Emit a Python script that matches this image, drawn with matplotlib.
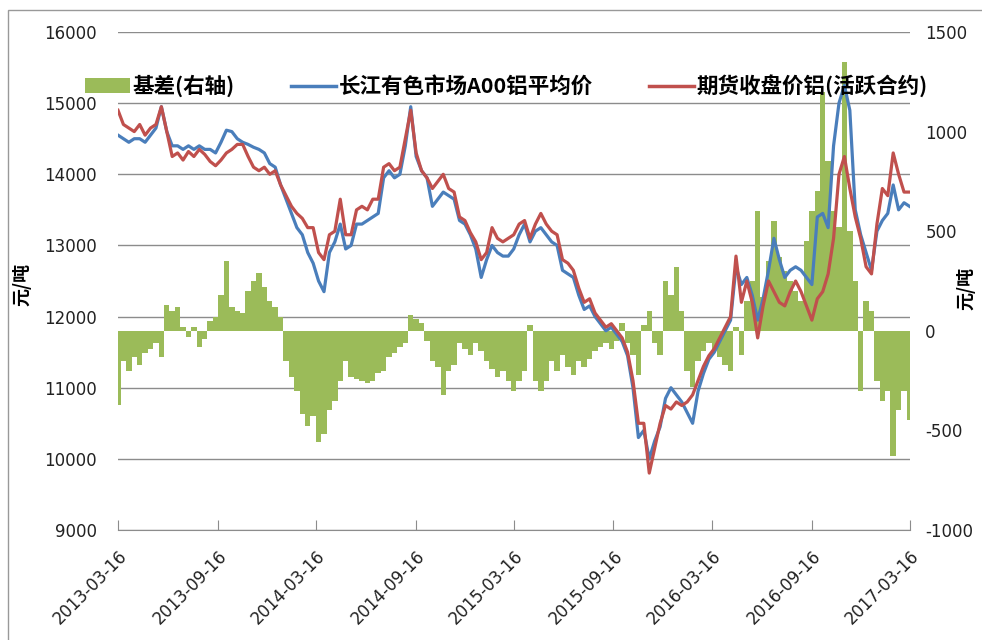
import matplotlib
matplotlib.use('Agg')
import matplotlib.pyplot as plt
from matplotlib.patches import Patch, Rectangle
from matplotlib.lines import Line2D
import pandas as pd

plt.rcParams['font.family'] = ['DejaVu Sans', 'Noto Sans CJK SC']
plt.rcParams['axes.unicode_minus'] = False

# ---------------- data (sampled every 10 days) ----------------
start_date = '2013-03-16'
step = '10D'

spot = [14550, 14500, 14450, 14500, 14500, 14450, 14550, 14650, 14950, 14600,
        14400, 14400, 14350, 14400, 14350, 14400, 14350, 14350, 14300, 14450,
        14620, 14600, 14500, 14450, 14420, 14380, 14350, 14300, 14150, 14100,
        13850, 13650, 13450, 13250, 13150, 12900, 12750, 12500, 12350, 12900,
        13050, 13300, 12950, 13000, 13300, 13300, 13350, 13400, 13450, 13950,
        14050, 13950, 14000, 14400, 14950, 14250, 14050, 13950, 13550, 13650,
        13750, 13700, 13650, 13350, 13300, 13150, 12950, 12550, 12800, 13000,
        12900, 12850, 12850, 12950, 13150, 13300, 13050, 13200, 13250, 13150,
        13050, 13000, 12650, 12600, 12550, 12300, 12100, 12150, 12000, 11900,
        11800, 11850, 11750, 11650, 11450, 11000, 10300, 10400, 10000, 10250,
        10450, 10850, 11000, 10900, 10800, 10650, 10500, 10950, 11200, 11400,
        11500, 11650, 11800, 11950, 12700, 12450, 12550, 12300, 11950, 12250,
        12650, 13100, 12800, 12550, 12650, 12700, 12650, 12550, 12450, 13400,
        13450, 13250, 14400, 15000, 15250, 14900, 13500, 13150, 12900, 12650,
        13200, 13350, 13450, 13850, 13500, 13600, 13550]

futures = [14900, 14700, 14650, 14600, 14700, 14550, 14650, 14700, 14950, 14600,
           14250, 14300, 14200, 14320, 14250, 14350, 14280, 14180, 14120, 14200,
           14300, 14350, 14420, 14420, 14250, 14100, 14050, 14100, 14000, 14050,
           13850, 13700, 13550, 13450, 13380, 13250, 13250, 12900, 12800, 13150,
           13200, 13650, 13150, 13150, 13500, 13550, 13500, 13650, 13650, 14100,
           14150, 14050, 14100, 14500, 14900, 14300, 14050, 13950, 13800, 13900,
           14000, 13800, 13750, 13400, 13350, 13180, 13050, 12800, 12900, 13250,
           13100, 13050, 13100, 13150, 13300, 13350, 13100, 13300, 13450, 13300,
           13200, 13150, 12800, 12750, 12650, 12400, 12200, 12250, 12050, 11950,
           11850, 11900, 11800, 11700, 11500, 11100, 10500, 10500, 9800, 10150,
           10500, 10750, 10700, 10800, 10750, 10800, 10900, 11100, 11300, 11450,
           11550, 11700, 11850, 12000, 12850, 12200, 12500, 12200, 11700, 12150,
           12500, 12350, 12200, 12150, 12350, 12500, 12350, 12150, 11950, 12250,
           12350, 12600, 13100, 14000, 14250, 13800, 13400, 13100, 12700, 12600,
           13300, 13800, 13700, 14300, 14000, 13750, 13750]

basis = [-370, -150, -200, -130, -170, -110, -90, -60, -130, 130,
         100, 120, 20, -30, 20, -80, -40, 50, 70, 180,
         350, 120, 100, 90, 200, 250, 290, 220, 150, 120,
         70, -150, -230, -300, -420, -480, -430, -560, -520, -400,
         -350, -250, -150, -230, -240, -250, -260, -250, -210, -200,
         -130, -110, -80, -60, 80, 60, 40, -50, -150, -180,
         -320, -200, -170, -60, -90, -120, -60, -100, -150, -190,
         -230, -200, -250, -300, -250, -200, 30, -250, -300, -250,
         -150, -200, -120, -180, -220, -150, -180, -140, -100, -80,
         -60, -90, -50, 40, -60, -120, -220, 30, 100, -60,
         -120, 250, 180, 320, 100, -200, -280, -150, -100, -60,
         -90, -130, -170, -200, 20, -120, 150, 250, 600, 170,
         350, 550, 370, 300, 250, 200, 150, 450, 600, 700,
         1200, 850, 600, 520, 1350, 500, 250, -300, 150, 100,
         -250, -350, -300, -630, -400, -300, -450]

tick_labels = ['2013-03-16', '2013-09-16', '2014-03-16', '2014-09-16',
               '2015-03-16', '2015-09-16', '2016-03-16', '2016-09-16',
               '2017-03-16']
legend_labels = ['基差(右轴)', '长江有色市场A00铝平均价', '期货收盘价铝(活跃合约)']
y_label = '元/吨'

dates = pd.date_range(start_date, periods=len(spot), freq=step)

# ---------------- styling ----------------
GREEN = '#9bbb59'
BLUE = '#4a7ebb'
RED = '#c0504d'
GRID = '#8c8c8c'
TXT = '#222222'

fig = plt.figure(figsize=(9.82, 6.4), dpi=100)
pos = [118 / 982, 1 - 530 / 640, (910 - 118) / 982, (530 - 32) / 640]

ax = fig.add_axes(pos)          # grid, left axis, x axis
ax2 = ax.twinx()                # basis bars (right axis)
ax3 = fig.add_axes(pos, sharex=ax, sharey=ax)  # price lines on top

ax.set_ylim(9000, 16000)
ax.set_yticks(range(9000, 16001, 1000))
ax.grid(axis='y', color=GRID, linewidth=1.0)
ax.set_axisbelow(True)
for s in ['top', 'left', 'right']:
    ax.spines[s].set_visible(False)
ax.spines['bottom'].set_color(GRID)
ax.tick_params(axis='y', length=0, pad=15, labelsize=12, colors=TXT)

ax.set_xlim(pd.Timestamp(tick_labels[0]), pd.Timestamp(tick_labels[-1]))
ax.set_xticks(pd.to_datetime(tick_labels))
ax.set_xticklabels(tick_labels, rotation=45, ha='right', va='top',
                   rotation_mode='anchor')
ax.tick_params(axis='x', direction='in', length=7, color=GRID, pad=12,
               labelsize=12, labelcolor=TXT)

ax2.bar(dates, basis, width=10, color=GREEN, linewidth=0)
ax2.set_ylim(-1000, 1500)
ax2.set_yticks(range(-1000, 1501, 500))
for s in ax2.spines.values():
    s.set_visible(False)
ax2.tick_params(axis='y', length=0, pad=11, labelsize=12, colors=TXT)

ax3.plot(dates, spot, color=BLUE, linewidth=2.3)
ax3.plot(dates, futures, color=RED, linewidth=2.3)
ax3.patch.set_visible(False)
ax3.axis('off')

# axis titles
fig.text(22 / 982, 1 - 285 / 640, y_label, rotation=90, ha='center', va='center',
         fontsize=13, fontweight='bold', family=['Noto Sans CJK SC', 'DejaVu Sans'])
fig.text(966 / 982, 1 - 288 / 640, y_label, rotation=90, ha='center', va='center',
         fontsize=13, fontweight='bold', family=['Noto Sans CJK SC', 'DejaVu Sans'])

# legend
handles = [Patch(facecolor=GREEN, edgecolor='none'),
           Line2D([], [], color=BLUE, linewidth=2.5),
           Line2D([], [], color=RED, linewidth=2.5)]
fig.legend(handles, legend_labels, loc='center left',
           bbox_to_anchor=(85 / 982, 1 - 86 / 640), ncol=3, frameon=False,
           borderpad=0, borderaxespad=0, handlelength=2.1, handletextpad=0.12,
           columnspacing=2.6,
           prop={'family': ['Noto Sans CJK SC', 'DejaVu Sans'],
                 'weight': 'bold', 'size': 15.5})

# outer frame of the picture
fig.patches.append(Rectangle((8 / 982, -0.05), 1.1, 1 - 10 / 640 + 0.05,
                             transform=fig.transFigure, fill=False,
                             edgecolor='#999999', linewidth=1.0))

fig.savefig('out.png', dpi=100)
